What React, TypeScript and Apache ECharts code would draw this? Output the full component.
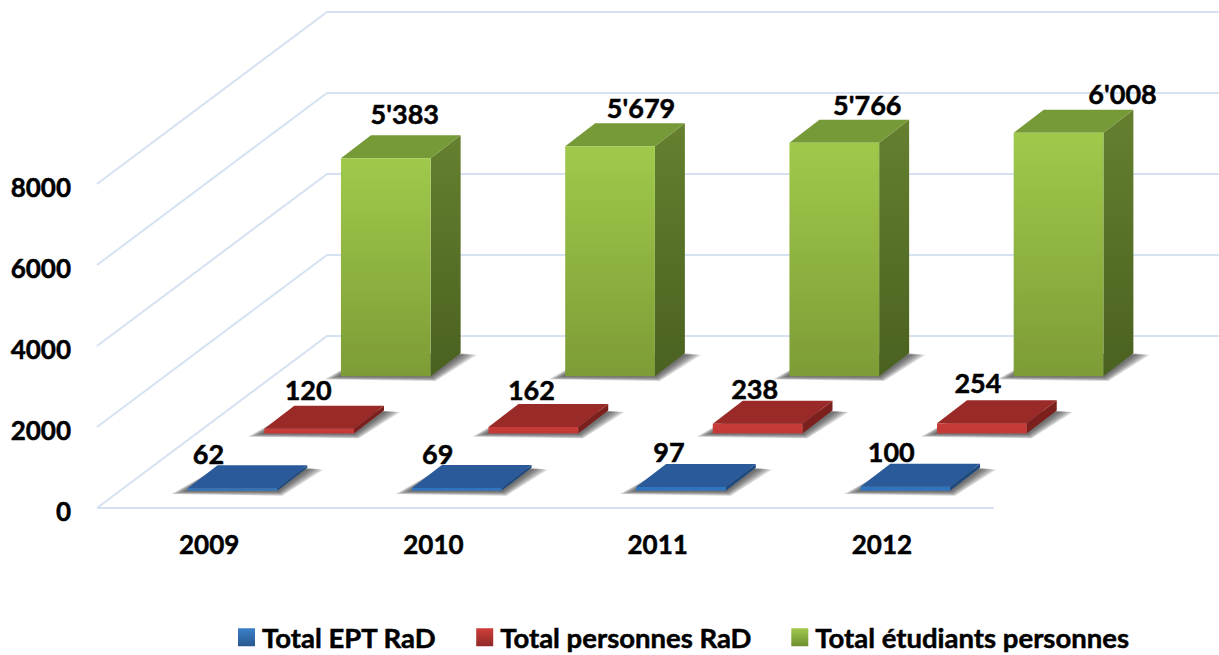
import React, { useEffect, useRef } from "react";
import * as echarts from "echarts";

const categories = ["2009", "2010", "2011", "2012"];
const yTicks = [0, 2000, 4000, 6000, 8000];
const seriesNames = ["Total EPT RaD", "Total personnes RaD", "Total étudiants personnes"];
const eptValues = [62, 69, 97, 100];
const personnesValues = [120, 162, 238, 254];
const etudiantsValues = [5383, 5679, 5766, 6008];

// Hand placement of the value labels relative to the top of each bar
const eptNudge = [[-24, -12], [-19, -12], [-12, -12], [-14, -12]];
const personnesNudge = [[-1, -16], [-2, -14], [-3, -12], [-4, -18]];
const etudiantsNudge = [[19, -22], [31, -16], [33, -15], [64, -16]];

const FONT = "Lato, Carlito, 'Noto Sans', sans-serif";
const WALL_DX = 230;
const WALL_DY = 172;
const STEP_DX = WALL_DX / 3;
const STEP_DY = WALL_DY / 3;
const BAR_DX = 30;
const BAR_DY = 23;
const BAR_FRACTION = 0.4;
const SHADOW_SPREADS = [16, 13, 10, 7, 4];

const boldText = { fontFamily: FONT, fontWeight: "bold", color: "#000", textBorderColor: "#000", textBorderWidth: 0.5 };

const vGrad = (a: string, b: string) =>
  new echarts.graphic.LinearGradient(0, 0, 0, 1, [
    { offset: 0, color: a },
    { offset: 1, color: b },
  ]);

const fmt = (v: number) => String(v).replace(/\B(?=(\d{3})+$)/g, "'");

type Palette = { front: [string, string]; side: [string, string]; top: string; legend: [string, string] };

const palettes: Palette[] = [
  { front: ["#2f74bd", "#2f74bd"], side: ["#1f4a80", "#1f4a80"], top: "#2a5a9a", legend: ["#3a7fca", "#29588f"] },
  { front: ["#c93c39", "#c23835"], side: ["#7c201e", "#7c201e"], top: "#9a2a27", legend: ["#cf3e3b", "#8f2a27"] },
  { front: ["#a0c94b", "#7d9c36"], side: ["#65802f", "#4a6120"], top: "#769a37", legend: ["#a0c94b", "#6f8e2f"] },
];

function barRenderer(seriesIdx: number, nudges: number[][]) {
  return (params: any, api: any) => {
    const cat = api.value(0);
    const val = api.value(1);
    const top = api.coord([cat, val]);
    const base = api.coord([cat, 0]);
    const w = api.size([1, 0])[0] * BAR_FRACTION;
    const offX = STEP_DX * seriesIdx + (STEP_DX - BAR_DX) / 2;
    const offY = STEP_DY * seriesIdx + (STEP_DY - BAR_DY) / 2;
    const l = top[0] - w / 2 + offX;
    const r = l + w;
    const yb = base[1] - offY;
    const yt = top[1] - offY;
    const p = palettes[seriesIdx];
    const n = nudges[params.dataIndex];
    const grad = (c: [string, string]) => (c[0] === c[1] ? c[0] : vGrad(c[0], c[1]));
    const shadows = SHADOW_SPREADS.map((e) => ({
      type: "polygon",
      shape: {
        points: [
          [l - e, yb + e * 0.2],
          [r + e * 0.3, yb + e * 0.3],
          [r + BAR_DX + e, yb - BAR_DY + e * 0.1],
          [l + BAR_DX, yb - BAR_DY],
        ],
      },
      style: { fill: "rgba(60,60,60,0.22)" },
    }));
    return {
      type: "group",
      children: [
        ...shadows,
        {
          type: "polygon",
          shape: { points: [[r, yt], [r + BAR_DX, yt - BAR_DY], [r + BAR_DX, yb - BAR_DY], [r, yb]] },
          style: { fill: grad(p.side) },
        },
        {
          type: "polygon",
          shape: { points: [[l, yt], [l + BAR_DX, yt - BAR_DY], [r + BAR_DX, yt - BAR_DY], [r, yt]] },
          style: { fill: p.top },
        },
        {
          type: "polygon",
          shape: { points: [[l, yt], [r, yt], [r, yb], [l, yb]] },
          style: { fill: grad(p.front) },
        },
        {
          type: "text",
          x: (l + r) / 2 + n[0],
          y: yt - BAR_DY + n[1],
          style: {
            text: fmt(val),
            font: `bold 27px ${FONT}`,
            fill: "#000",
            stroke: "#000",
            lineWidth: 0.5,
            align: "center",
            verticalAlign: "middle",
          },
        },
      ],
    };
  };
}

function wallRenderer(params: any, api: any) {
  const v = api.value(0);
  const sys = params.coordSys;
  const y = api.coord([0, v])[1];
  const left = sys.x;
  const chartRight = api.getWidth();
  const lineStyle = { stroke: "#d6e2f2", lineWidth: 2, fill: "none" };
  const children: any[] = [
    {
      type: "polyline",
      shape: { points: [[left, y], [left + WALL_DX, y - WALL_DY], [chartRight, y - WALL_DY]] },
      style: lineStyle,
    },
  ];
  if (v === 0) {
    children.push({
      type: "line",
      shape: { x1: left, y1: y, x2: sys.x + sys.width, y2: y },
      style: lineStyle,
    });
  }
  return { type: "group", children };
}

const barSeries = (idx: number, values: number[], nudges: number[][]) => ({
  type: "custom",
  name: seriesNames[idx],
  z: 5 - idx,
  renderItem: barRenderer(idx, nudges),
  encode: { x: 0, y: 1 },
  itemStyle: { color: vGrad(palettes[idx].legend[0], palettes[idx].legend[1]) },
  data: values.map((v, i) => [i, v]),
});

export default function App() {
  const ref = useRef<HTMLDivElement>(null);
  useEffect(() => {
    const chart = echarts.init(ref.current!, undefined, { renderer: "svg" });
    chart.setOption({
      animation: false,
      backgroundColor: "#fff",
      grid: { left: 97, top: 184, width: 897, height: 324, containLabel: false },
      textStyle: { fontFamily: FONT },
      xAxis: {
        type: "category",
        data: categories,
        axisLine: { show: false },
        axisTick: { show: false },
        axisLabel: { ...boldText, fontSize: 26, margin: 23 },
      },
      yAxis: {
        type: "value",
        min: yTicks[0],
        max: yTicks[yTicks.length - 1],
        interval: 2000,
        axisLine: { show: false },
        axisTick: { show: false },
        splitLine: { show: false },
        axisLabel: {
          ...boldText,
          fontSize: 26,
          margin: 26,
          verticalAlign: "top",
          lineHeight: 5,
          formatter: (v: number) => String(v),
        },
      },
      legend: {
        left: 238,
        top: 623,
        padding: 0,
        itemWidth: 17,
        itemHeight: 18,
        itemGap: 39.5,
        icon: "rect",
        data: seriesNames,
        selectedMode: false,
        textStyle: { ...boldText, fontSize: 27.5, lineHeight: 27, padding: [0, 0, 0, 2] },
      },
      series: [
        {
          type: "custom",
          name: "walls",
          z: 1,
          renderItem: wallRenderer,
          encode: { y: 0 },
          silent: true,
          data: yTicks.map((v) => [v]),
        },
        barSeries(0, eptValues, eptNudge),
        barSeries(1, personnesValues, personnesNudge),
        barSeries(2, etudiantsValues, etudiantsNudge),
      ],
    });
    return () => chart.dispose();
  }, []);
  return <div ref={ref} style={{ position: "fixed", left: 0, top: 0, width: 1219, height: 655 }} />;
}
